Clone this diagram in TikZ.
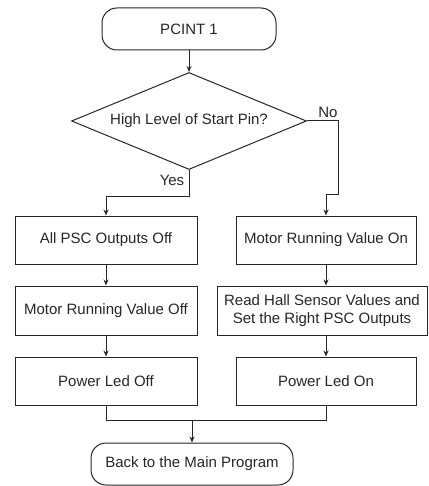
\documentclass[tikz,border=0pt]{standalone}
\usepackage{fontspec}
\setmainfont{Liberation Sans}
\usetikzlibrary{shapes.geometric,arrows.meta}
\begin{document}
\begin{tikzpicture}[x=1pt,y=-1pt,
  every node/.style={font=\fontsize{15}{17.5}\selectfont, text=black!85},
  line/.style={draw=black!85, line width=1pt},
  arr/.style={line, -{Stealth[length=6pt,width=5pt]}},
  procbox/.style={line, rectangle, inner sep=0pt, minimum height=48pt, align=center},
  termbox/.style={line, rectangle, rounded corners=15pt, inner sep=0pt, minimum height=42pt},
  decbox/.style={line, diamond, aspect=2.42, inner sep=0pt, minimum width=235pt, minimum height=97pt}]
\useasboundingbox (0,0) rectangle (428,486);

% start and end terminators
\node[termbox, minimum width=174pt] (start) at (189,29) {PCINT 1};
\node[termbox, minimum width=202pt] (stop) at (192,464) {Back to the Main Program};

% decision
\node[decbox] (dec) at (189,121) {High Level of Start Pin?};

% left branch
\node[procbox, minimum width=182pt] (l1) at (106,240) {All PSC Outputs Off};
\node[procbox, minimum width=182pt, minimum height=49pt] (l2) at (106,310.5) {Motor Running Value Off};
\node[procbox, minimum width=182pt] (l3) at (106,381) {Power Led Off};

% right branch
\node[procbox, minimum width=180pt] (r1) at (326,240) {Motor Running Value On};
\node[procbox, minimum width=210pt, minimum height=49pt] (r2) at (322,310.5) {Read Hall Sensor Values and\\Set the Right PSC Outputs};
\node[procbox, minimum width=180pt] (r3) at (326,381) {Power Led On};

% connectors
\draw[arr] (start) -- (dec);
\draw[arr] (dec.south) -- ++(0,26) -| (l1.north);
\draw[arr] (dec.east) -- ++(31,0) |- ([yshift=21pt]r1.north) -- (r1.north);
\draw[arr] (l1) -- (l2);
\draw[arr] (l2) -- (l3);
\draw[arr] (r1) -- (r2.north -| r1.north);
\draw[arr] (r2.south -| r3.north) -- (r3);

\coordinate (merge) at (192,420);
\draw[line] (l3.south) -- ++(0,15) -| (r3.south);
\draw[arr] (merge) -- (stop.north);

% branch labels
\node (no) at (328,112) {No};
\node (yes) at (172,180) {Yes};
\end{tikzpicture}
\end{document}
